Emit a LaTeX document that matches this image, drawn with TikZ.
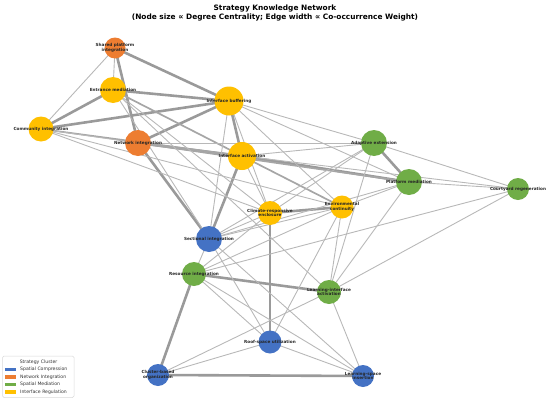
\documentclass[tikz,border=0pt]{standalone}
\usepackage{fontspec}
\setmainfont{DejaVu Sans}
\definecolor{cblue}{HTML}{4472C4}
\definecolor{corange}{HTML}{ED7D31}
\definecolor{cgreen}{HTML}{70AD47}
\definecolor{cyellow}{HTML}{FFC000}
\definecolor{ethin}{HTML}{B8B8B8}
\definecolor{emid}{HTML}{A6A6A6}
\definecolor{ethick}{HTML}{9A9A9A}
\begin{document}
\begin{tikzpicture}[x=1pt,y=-1pt,
  nd/.style={circle,inner sep=0pt,draw=none,minimum size=#1},
  lbl/.style={font=\fontsize{4.2}{4.5}\selectfont\bfseries,text=black!85,align=center,inner sep=0pt},
  ea/.style={draw=ethin,line width=0.9pt},
  eb/.style={draw=emid,line width=1.7pt},
  ec/.style={draw=ethick,line width=2.6pt},
  legtxt/.style={font=\fontsize{4.6}{5}\selectfont,text=black!80,anchor=west,inner sep=0pt}
]
\useasboundingbox (0,0) rectangle (550,402);
\node[font=\fontsize{7.4}{8}\selectfont\bfseries] (t1) at (275,8.5) {Strategy Knowledge Network};
\node[font=\fontsize{7.4}{8}\selectfont\bfseries] (t2) at (275,17.5) {(Node size ∝ Degree Centrality; Edge width ∝ Co-occurrence Weight)};
% nodes (coordinates first)
\coordinate (SP) at (115,48);
\coordinate (EM) at (113,90);
\coordinate (CI) at (41,129);
\coordinate (NI) at (138,143);
\coordinate (IB) at (229,101);
\coordinate (IA) at (242,156);
\coordinate (AE) at (374,143);
\coordinate (PM) at (409,182);
\coordinate (CR) at (518,189);
\coordinate (CE) at (270,213);
\coordinate (EC) at (342,207);
\coordinate (SI) at (209,239);
\coordinate (RI) at (194,274);
\coordinate (LA) at (329,292);
\coordinate (RS) at (270,342);
\coordinate (CB) at (158,375);
\coordinate (LS) at (363,376);
% edges
\foreach \a/\b in {SP/IB,SP/NI,EM/IB,EM/CI,CI/IB,NI/IB,NI/SI,IA/SI,IB/IA,AE/PM,CE/RS,RI/LA,CB/LS,RI/CB,NI/IA,IA/PM,CE/EC}
  \draw[ec] (\a) -- (\b);
\foreach \a/\b in {EM/IA,IA/EC,CI/IA,NI/PM}
  \draw[eb] (\a) -- (\b);
\foreach \a/\b in {SP/CI,SP/EM,CI/NI,CI/CE,CI/EC,IB/AE,IB/PM,IB/EC,IB/CE,IB/SI,NI/AE,IA/AE,IA/CR,AE/CR,PM/CR,AE/CE,AE/SI,AE/LA,PM/EC,RI/CR,PM/SI,PM/LA,EC/RS,EC/LA,CR/LA,RI/LS,SI/LS,RS/LS,LA/LS,SI/RS,RI/RS,CB/RS,CB/LA,EM/CE,EM/SI,SI/CE,SI/EC,RI/CE,RI/EC,RI/SI,IA/CE,EM/LA}
  \draw[ea] (\a) -- (\b);
% node disks
\node[nd=21pt,fill=corange,label={[lbl]center:Shared platform\\integration}] (nSP) at (SP) {};
\node[nd=26pt,fill=cyellow,label={[lbl]center:Entrance mediation}] (nEM) at (EM) {};
\node[nd=25pt,fill=cyellow,label={[lbl]center:Community integration}] (nCI) at (CI) {};
\node[nd=26pt,fill=corange,label={[lbl]center:Network integration}] (nNI) at (NI) {};
\node[nd=29pt,fill=cyellow,label={[lbl]center:Interface buffering}] (nIB) at (IB) {};
\node[nd=28pt,fill=cyellow,label={[lbl]center:Interface activation}] (nIA) at (IA) {};
\node[nd=26pt,fill=cgreen,label={[lbl]center:Adaptive extension}] (nAE) at (AE) {};
\node[nd=26pt,fill=cgreen,label={[lbl]center:Platform mediation}] (nPM) at (PM) {};
\node[nd=22pt,fill=cgreen,label={[lbl]center:Courtyard regeneration}] (nCR) at (CR) {};
\node[nd=24pt,fill=cyellow,label={[lbl]center:Climate-responsive\\enclosure}] (nCE) at (CE) {};
\node[nd=23pt,fill=cyellow,label={[lbl]center:Environmental\\continuity}] (nEC) at (EC) {};
\node[nd=26pt,fill=cblue,label={[lbl]center:Sectional integration}] (nSI) at (SI) {};
\node[nd=24pt,fill=cgreen,label={[lbl]center:Resource integration}] (nRI) at (RI) {};
\node[nd=24pt,fill=cgreen,label={[lbl]center:Learning-interface\\activation}] (nLA) at (LA) {};
\node[nd=23pt,fill=cblue,label={[lbl]center:Roof-space utilization}] (nRS) at (RS) {};
\node[nd=22pt,fill=cblue,label={[lbl]center:Cluster-based\\organization}] (nCB) at (CB) {};
\node[nd=22pt,fill=cblue,label={[lbl]center:Learning-space\\insertion}] (nLS) at (LS) {};
% legend
\draw[draw=black!15,fill=white,rounded corners=1.5pt,line width=0.5pt] (2.5,356) rectangle (74,397.5);
\node[font=\fontsize{4.6}{5}\selectfont,text=black!80] (lt) at (38.5,362) {Strategy Cluster};
\fill[cblue] (5,367.5) rectangle (16,371);
\node[legtxt] (l1) at (20,369.3) {Spatial Compression};
\fill[corange] (5,375) rectangle (16,378.5);
\node[legtxt] (l2) at (20,376.8) {Network Integration};
\fill[cgreen] (5,382.5) rectangle (16,386);
\node[legtxt] (l3) at (20,384.3) {Spatial Mediation};
\fill[cyellow] (5,390) rectangle (16,393.5);
\node[legtxt] (l4) at (20,391.8) {Interface Regulation};
\end{tikzpicture}
\end{document}
